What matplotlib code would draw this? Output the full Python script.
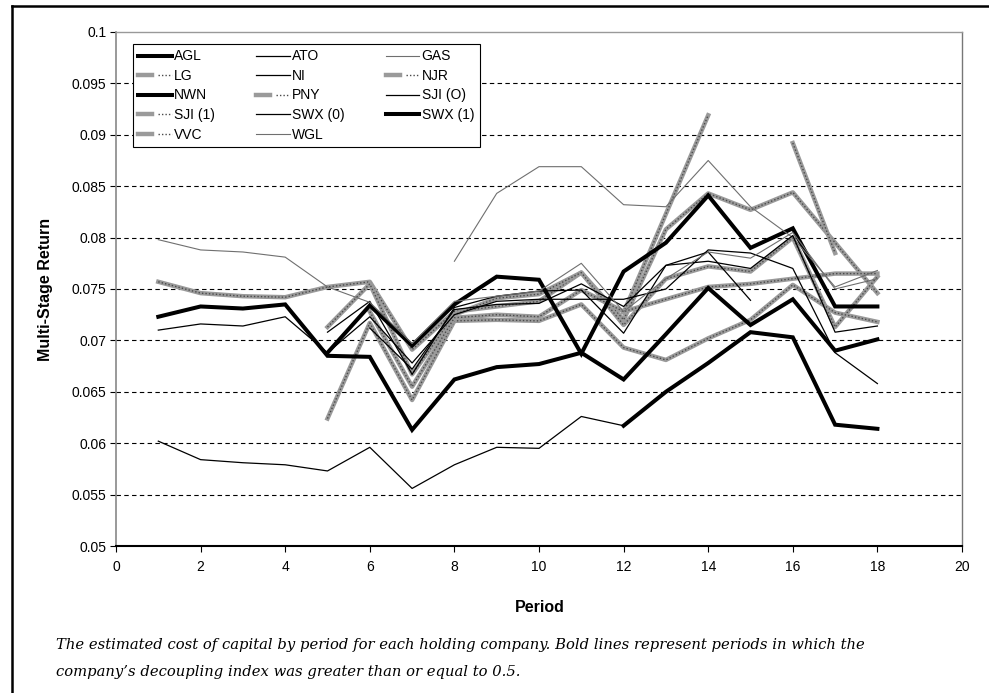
import numpy as np
import matplotlib
matplotlib.use("Agg")
import matplotlib.pyplot as plt
from matplotlib.lines import Line2D
from matplotlib.legend_handler import HandlerTuple

nan = np.nan
periods = list(range(1, 19))

# multi-stage return per period, one list per holding company
AGL = [nan, nan, nan, nan, 0.0688, 0.0734, 0.0695, 0.0735, 0.0762, 0.0759, 0.0687, 0.0767, 0.0795, 0.0841, 0.0790, 0.0809, 0.0733, 0.0733]
ATO = [0.0710, 0.0716, 0.0714, 0.0723, 0.0688, 0.0723, 0.0678, 0.0725, 0.0738, 0.0740, 0.0740, 0.0740, 0.0750, 0.0788, 0.0785, 0.0770, 0.0688, 0.0658]
GAS = [nan, nan, nan, nan, nan, nan, nan, 0.0777, 0.0843, 0.0869, 0.0869, 0.0832, 0.0830, 0.0875, 0.0830, 0.0800, 0.0752, 0.0768]
LG = [0.0757, 0.0746, 0.0743, 0.0742, 0.0752, 0.0757, 0.0691, 0.0728, 0.0733, 0.0738, 0.0766, 0.0720, 0.0808, 0.0843, 0.0827, 0.0844, 0.0795, 0.0746]
NI = [nan, nan, nan, nan, 0.0708, 0.0738, 0.0667, 0.0732, 0.0743, 0.0748, 0.0749, 0.0707, 0.0773, 0.0777, 0.0770, 0.0802, 0.0708, 0.0714]
NJR = [nan, nan, nan, nan, 0.0713, 0.0755, 0.0667, 0.0725, 0.0741, 0.0745, 0.0766, 0.0715, 0.0760, 0.0772, 0.0767, 0.0800, 0.0713, 0.0762]
NWN = [0.0723, 0.0733, 0.0731, 0.0735, 0.0685, 0.0684, 0.0613, 0.0662, 0.0674, 0.0677, 0.0688, 0.0662, 0.0706, 0.0751, 0.0715, 0.0740, 0.0690, 0.0701]
PNY = [nan, nan, nan, nan, 0.0624, 0.0717, 0.0642, 0.0719, 0.0720, 0.0719, 0.0735, 0.0693, 0.0681, 0.0702, 0.0720, 0.0754, 0.0727, 0.0718]
SJI_0 = [nan, nan, nan, nan, nan, 0.0712, 0.0672, 0.0730, 0.0735, 0.0736, 0.0755, 0.0733, 0.0773, 0.0786, 0.0739, nan, nan, nan]
SJI_1 = [nan, nan, nan, nan, nan, nan, nan, nan, nan, nan, nan, 0.0727, 0.0823, 0.0919, nan, 0.0892, 0.0785, nan]
SWX_0 = [0.0602, 0.0584, 0.0581, 0.0579, 0.0573, 0.0596, 0.0556, 0.0579, 0.0596, 0.0595, 0.0626, 0.0617, nan, nan, nan, nan, nan, nan]
SWX_1 = [nan, nan, nan, nan, nan, nan, nan, nan, nan, nan, nan, 0.0617, 0.0650, 0.0678, 0.0708, 0.0703, 0.0618, 0.0614]
VVC = [nan, nan, nan, nan, nan, 0.0728, 0.0655, 0.0722, 0.0725, 0.0723, 0.0749, 0.0728, 0.0740, 0.0752, 0.0755, 0.0760, 0.0765, 0.0765]
WGL = [0.0798, 0.0788, 0.0786, 0.0781, 0.0752, 0.0737, 0.0697, 0.0738, 0.0743, 0.0748, 0.0775, 0.0728, 0.0760, 0.0786, 0.0780, 0.0805, 0.0750, 0.0760]

names = ["AGL", "ATO", "GAS", "LG", "NI", "NJR", "NWN", "PNY",
         "SJI (O)", "SJI (1)", "SWX (0)", "SWX (1)", "VVC", "WGL"]
series = [AGL, ATO, GAS, LG, NI, NJR, NWN, PNY, SJI_0, SJI_1, SWX_0, SWX_1, VVC, WGL]
# line kind for each company: bold black, thin black, thin gray, speckled gray
kinds = ["bold", "thin", "gray", "speck", "thin", "speck", "bold", "speck",
         "thin", "speck", "thin", "bold", "speck", "gray"]

plt.rcParams['font.family'] = ['Liberation Sans', 'DejaVu Sans']

fig = plt.figure(figsize=(9.89, 6.93), dpi=100)
ax = fig.add_axes([116/989, 1 - 546/693, 846/989, 514/693])

handles = {}
for name, vals, kind in zip(names, series, kinds):
    y = np.array(vals, dtype=float)
    if kind == "bold":
        h = ax.plot(periods, y, color="black", lw=2.9, solid_joinstyle="miter", zorder=4)[0]
        handles[name] = h
    elif kind == "thin":
        h = ax.plot(periods, y, color="black", lw=0.9, zorder=5)[0]
        handles[name] = h
    elif kind == "gray":
        h = ax.plot(periods, y, color="#6f6f6f", lw=0.8, zorder=5)[0]
        handles[name] = h
    else:
        base = ax.plot(periods, y, color="#9a9a9a", lw=3.2, zorder=3)[0]
        dots = ax.plot(periods, y, color="#4a4a4a", lw=1.0, ls=(0, (1, 1.5)), zorder=3)[0]
        handles[name] = (base, dots)

ax.set_xlim(0, 20)
ax.set_ylim(0.05, 0.1)
ax.set_xticks(range(0, 21, 2))
yt = [0.05, 0.055, 0.06, 0.065, 0.07, 0.075, 0.08, 0.085, 0.09, 0.095, 0.1]
ax.set_yticks(yt)
ax.set_yticklabels(["%g" % v for v in yt])
ax.tick_params(axis="both", direction="out", length=4, width=0.8, labelsize=10, colors="black")
ax.tick_params(axis="y", pad=3)
ax.tick_params(axis="x", pad=6)

for v in yt[1:-1]:
    ax.axhline(v, color="black", lw=0.8, ls=(0, (4, 3)), zorder=1)

ax.spines["left"].set_color("#888888")
ax.spines["left"].set_linewidth(1.2)
ax.spines["right"].set_color("#777777")
ax.spines["right"].set_linewidth(1.0)
ax.spines["top"].set_color("#999999")
ax.spines["top"].set_linewidth(1.0)
ax.spines["bottom"].set_color("black")
ax.spines["bottom"].set_linewidth(1.5)

ax.set_xlabel("Period", fontsize=11.5, fontweight="bold")
ax.xaxis.set_label_coords(0.501, -0.105)
ax.set_ylabel("Multi-Stage Return", fontsize=11.5, fontweight="bold")
ax.yaxis.set_label_coords(-0.074, 0.5)

# legend filled column by column, so reorder to read row-wise
order = ["AGL", "LG", "NWN", "SJI (1)", "VVC",
         "ATO", "NI", "PNY", "SWX (0)", "WGL",
         "GAS", "NJR", "SJI (O)", "SWX (1)"]
leg = ax.legend([handles[n] for n in order], order, ncol=3, loc="upper left",
                bbox_to_anchor=(0.02, 0.977), borderaxespad=0, fontsize=10,
                handlelength=2.4, handletextpad=0.15, columnspacing=3.0,
                labelspacing=0.4, fancybox=False, framealpha=1,
                handler_map={tuple: HandlerTuple(ndivide=None)})
leg.get_frame().set_edgecolor("black")
leg.get_frame().set_linewidth(0.8)

# outer frame of the figure panel
fig.add_artist(Line2D([12/989, 1.0], [1 - 6/693, 1 - 6/693], color="black", lw=1.8))
fig.add_artist(Line2D([12/989, 12/989], [0.0, 1 - 6/693], color="black", lw=1.8))

cap1 = ("The estimated cost of capital by period for each holding company. "
        "Bold lines represent periods in which the")
cap2 = "company\u2019s decoupling index was greater than or equal to 0.5."
fig.text(56/989, 1 - 645/693, cap1, fontsize=10.6, style="italic",
         family="DejaVu Serif", va="center")
fig.text(56/989, 1 - 672/693, cap2, fontsize=10.6, style="italic",
         family="DejaVu Serif", va="center")

fig.savefig("out.png", dpi=100)
